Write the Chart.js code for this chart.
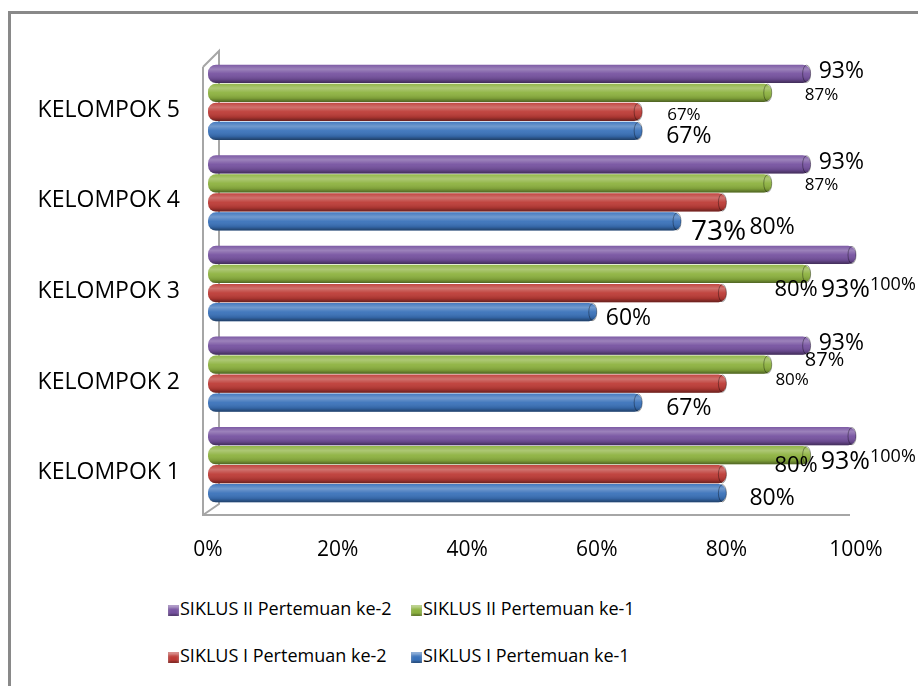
<!DOCTYPE html>
<html>
<head>
<meta charset="utf-8">
<script src="https://cdn.jsdelivr.net/npm/chart.js@4.4.1/dist/chart.umd.min.js"></script>
<style>
    body { margin: 0; width: 918px; height: 686px; overflow: hidden; background: #fff; font-family: "Open Sans", sans-serif; }
    #frame { position: absolute; left: 8px; top: 11px; width: 1000px; height: 800px; border: 3px solid #898989; }
    #chartBox { position: absolute; left: 0; top: 0; width: 918px; height: 580px; }
    #legend { position: absolute; left: 0; top: 0; }
    .legend-item { position: absolute; white-space: nowrap; font-size: 18px; color: #000; line-height: 24px; }
    .legend-box { display: inline-block; width: 11px; height: 11px; margin-right: 1px; vertical-align: -1px; }
</style>
</head>
<body>
<div id="frame"></div>
<div id="chartBox"><canvas id="myChart" width="918" height="580"></canvas></div>
<div id="legend"></div>

<script>
// categories (bottom to top in the picture)
const categories = ["KELOMPOK 1", "KELOMPOK 2", "KELOMPOK 3", "KELOMPOK 4", "KELOMPOK 5"]

// series, listed top bar first inside each group
const seriesNames = ["SIKLUS II Pertemuan ke-2", "SIKLUS II Pertemuan ke-1", "SIKLUS I Pertemuan ke-2", "SIKLUS I Pertemuan ke-1"]
const siklus2Pert2 = [100, 93, 100, 93, 93]
const siklus2Pert1 = [93, 87, 93, 87, 87]
const siklus1Pert2 = [80, 80, 80, 80, 67]
const siklus1Pert1 = [80, 67, 60, 73, 67]

// x axis ticks
const xTicks = [0, 20, 40, 60, 80, 100]

const barColors = ["#7652a0", "#8db23f", "#bd3b36", "#3a72ba"]

// data label placement [dx from bar end, dy from bar centre, font size] - the original has messy labels
const labelTweaks = [
    [[14, 21, 18], [8, -2, 23], [14, 30, 18], [8, -2, 23], [8, -2, 23]],
    [[10, 7, 25], [33, -4, 20], [10, 16, 25], [33, 2, 17], [33, 2, 17]],
    [[48, -8, 22], [49, -3, 17], [48, -3, 22], [23, 25, 23], [25, 3, 17]],
    [[23, 5, 23], [24, 6, 23], [9, 6, 23], [10, 11, 28], [24, 6, 23]]
]

const seriesValues = [siklus2Pert2, siklus2Pert1, siklus1Pert2, siklus1Pert1]

// --------------------------------------------------------
// 3D looking wall / floor lines behind the bars
const wallPlugin = {
    id: 'walls',
    beforeDatasetsDraw(chart) {
        const a = chart.chartArea
        const c = chart.ctx
        c.save()
        c.strokeStyle = "#a6a6a6"
        c.lineWidth = 2
        c.beginPath()
        // front edge of wall + floor
        c.moveTo(a.left - 5, a.top + 10)
        c.lineTo(a.left - 5, a.bottom + 5)
        c.lineTo(a.right - 6, a.bottom + 5)
        // top of wall and back edge
        c.moveTo(a.left - 5, a.top + 10)
        c.lineTo(a.left + 11, a.top - 6)
        c.lineTo(a.left + 11, a.bottom - 6)
        c.lineTo(a.left - 5, a.bottom + 5)
        c.stroke()
        c.restore()
    }
}

// shading on every bar so it looks like a tube
const tubePlugin = {
    id: 'tubes',
    afterDatasetsDraw(chart) {
        const c = chart.ctx
        chart.data.datasets.forEach((ds, i) => {
            chart.getDatasetMeta(i).data.forEach(bar => {
                const h = bar.height
                const top = bar.y - h / 2
                const g = c.createLinearGradient(0, top, 0, top + h)
                g.addColorStop(0, "rgba(255,255,255,0.05)")
                g.addColorStop(0.25, "rgba(255,255,255,0.28)")
                g.addColorStop(0.5, "rgba(255,255,255,0.05)")
                g.addColorStop(0.8, "rgba(0,0,0,0.12)")
                g.addColorStop(1, "rgba(0,0,0,0.45)")
                c.save()
                c.beginPath()
                c.roundRect(bar.base, top, bar.x - bar.base, h, h / 2.4)
                c.fillStyle = g
                c.fill()
                // end cap
                c.beginPath()
                c.ellipse(bar.x - 4, bar.y, 4, h / 2 - 0.5, 0, 0, Math.PI * 2)
                c.strokeStyle = "rgba(0,0,0,0.35)"
                c.lineWidth = 1
                c.stroke()
                c.restore()
            })
        })
    }
}

// value labels
const labelPlugin = {
    id: 'valueLabels',
    afterDatasetsDraw(chart) {
        const c = chart.ctx
        c.save()
        c.fillStyle = "#000"
        c.textAlign = "left"
        c.textBaseline = "middle"
        chart.data.datasets.forEach((ds, i) => {
            chart.getDatasetMeta(i).data.forEach((bar, j) => {
                const t = labelTweaks[i][j]
                c.font = t[2] + 'px "Open Sans"'
                c.fillText(ds.data[j] + "%", bar.x + t[0], bar.y + t[1])
            })
        })
        c.restore()
    }
}

const datasets = seriesNames.map((name, i) => ({
    label: name,
    data: seriesValues[i],
    backgroundColor: barColors[i],
    borderWidth: 0,
    borderSkipped: false,
    borderRadius: 8,
    categoryPercentage: 0.84,
    barPercentage: 0.96
}))

const myChart = new Chart("myChart", {
    type: "bar",
    data: {
        labels: categories,
        datasets: datasets
    },
    plugins: [wallPlugin, tubePlugin, labelPlugin],
    options: {
        indexAxis: 'y',
        responsive: false,
        animation: false,
        layout: { padding: { top: 57, right: 62, bottom: 10, left: 0 } },
        plugins: {
            legend: { display: false },
            tooltip: { enabled: false }
        },
        scales: {
            x: {
                min: 0,
                max: 100,
                afterBuildTicks: (scale) => { scale.ticks = xTicks.map(v => ({ value: v })) },
                afterFit: (scale) => { scale.height = 60 },
                grid: { display: false, drawTicks: false },
                border: { display: false },
                ticks: {
                    callback: (v) => v + "%",
                    color: "#000",
                    padding: 27,
                    font: { family: "Open Sans", size: 21 }
                }
            },
            y: {
                reverse: true,
                afterFit: (scale) => { scale.width = 208 },
                grid: { display: false, drawTicks: false },
                border: { display: false },
                ticks: {
                    color: "#000",
                    padding: 28,
                    labelOffset: 8,
                    font: { family: "Open Sans", size: 23 }
                }
            }
        }
    }
})

// legend as html, two per row
function buildLegend() {
    const legendEl = document.getElementById("legend")
    const spots = [[168, 596], [411, 596], [168, 643], [411, 643]]
    myChart.data.datasets.forEach((ds, i) => {
        const item = document.createElement("div")
        item.className = "legend-item"
        item.style.left = spots[i][0] + "px"
        item.style.top = spots[i][1] + "px"
        const col = ds.backgroundColor
        item.innerHTML = '<span class="legend-box" style="background: ' + col + '; box-shadow: inset 0 3px 3px rgba(255,255,255,0.45), inset 0 -2px 2px rgba(0,0,0,0.3)"></span>' + ds.label
        legendEl.appendChild(item)
    })
}
buildLegend()
</script>
</body>
</html>
